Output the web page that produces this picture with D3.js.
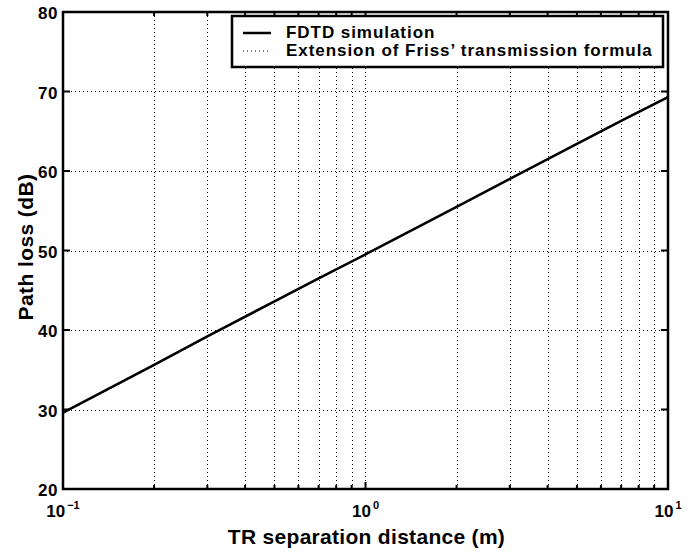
<!DOCTYPE html>
<html>
<head>
<meta charset="utf-8">
<script src="https://cdn.jsdelivr.net/npm/d3@7"></script>
<style>
  body { margin: 0; background: #fff; }
  text { font-family: "Liberation Sans", Arial, sans-serif; font-weight: bold; fill: #000; }
</style>
</head>
<body>
<svg width="699" height="553"></svg>
<script>
var distance = [0.1, 0.2, 0.3, 0.5, 0.7, 1, 2, 3, 5, 7, 10]
var fdtd = [29.6, 35.6, 39.2, 43.6, 46.5, 49.5, 55.5, 59.0, 63.4, 66.3, 69.3]
var friss = [29.5, 35.5, 39.1, 43.5, 46.4, 49.5, 55.5, 59.0, 63.5, 66.4, 69.4]
var yTicks = [20, 30, 40, 50, 60, 70, 80]
var xMajor = [0.1, 1, 10]
var xExp = ['-1', '0', '1']
var legendLabels = ['FDTD simulation', 'Extension of Friss\u2019 transmission formula']

var svg = d3.select('svg')
var pL = 63, pR = 668, pT = 12, pB = 489

var x = d3.scaleLog().domain([0.1, 10]).range([pL, pR])
var y = d3.scaleLinear().domain([20, 80]).range([pB, pT])

var xMinor = []
;[0.1, 1].forEach(function (b) {
  d3.range(2, 10).forEach(function (k) { xMinor.push(b * k) })
})

// grid
var grid = svg.append('g')
  .style('stroke', '#000')
  .style('stroke-width', 1)
  .style('stroke-dasharray', '1,3')
grid.selectAll('.gx')
  .data(xMinor.concat([1]))
  .enter().append('line')
  .attr('x1', function (d) { return Math.round(x(d)) + 0.5 })
  .attr('x2', function (d) { return Math.round(x(d)) + 0.5 })
  .attr('y1', pT).attr('y2', pB)
grid.selectAll('.gy')
  .data(yTicks.slice(1, -1))
  .enter().append('line')
  .attr('y1', function (d) { return Math.round(y(d)) + 0.5 })
  .attr('y2', function (d) { return Math.round(y(d)) + 0.5 })
  .attr('x1', pL).attr('x2', pR)

// ticks (inward, mirrored)
var ticks = svg.append('g').style('stroke', '#000').style('stroke-width', 2)
function xt (list, len) {
  list.forEach(function (d) {
    ticks.append('line').attr('x1', x(d)).attr('x2', x(d)).attr('y1', pB).attr('y2', pB - len)
    ticks.append('line').attr('x1', x(d)).attr('x2', x(d)).attr('y1', pT).attr('y2', pT + len)
  })
}
xt(xMinor, 4)
xt(xMajor, 7)
yTicks.forEach(function (d) {
  ticks.append('line').attr('y1', y(d)).attr('y2', y(d)).attr('x1', pL).attr('x2', pL + 7)
  ticks.append('line').attr('y1', y(d)).attr('y2', y(d)).attr('x1', pR).attr('x2', pR - 7)
})

// data lines
var line = d3.line()
  .x(function (d, i) { return x(distance[i]) })
  .y(function (d) { return y(d) })

svg.append('path').datum(friss).attr('d', line)
  .style('fill', 'none').style('stroke', '#000').style('stroke-width', 1)
  .style('stroke-dasharray', '1,2')
svg.append('path').datum(fdtd).attr('d', line)
  .style('fill', 'none').style('stroke', '#000').style('stroke-width', 2.5)

// axes box
svg.append('rect')
  .attr('x', pL).attr('y', pT)
  .attr('width', pR - pL).attr('height', pB - pT)
  .style('fill', 'none').style('stroke', '#000').style('stroke-width', 2.5)

// y tick labels
svg.selectAll('.yl')
  .data(yTicks)
  .enter().append('text')
  .attr('x', pL - 5)
  .attr('y', function (d) { return y(d) + 7 })
  .attr('text-anchor', 'end')
  .style('font-size', '17px')
  .style('letter-spacing', '0.5px')
  .text(function (d) { return d })

// x tick labels (10 with superscript exponent, centred on tick)
xMajor.forEach(function (d, i) {
  var t = svg.append('text')
    .attr('x', x(d))
    .attr('y', pB + 28)
    .attr('text-anchor', 'middle')
  t.append('tspan').style('font-size', '17px').text('10')
  t.append('tspan').attr('dx', 2).attr('dy', -8).style('font-size', '11px')
    .text(xExp[i].replace('-', '\u2212'))
})

// axis titles
svg.append('text')
  .attr('x', (pL + pR) / 2 + 1)
  .attr('y', 544)
  .attr('text-anchor', 'middle')
  .style('font-size', '21px')
  .style('letter-spacing', '0.3px')
  .text('TR separation distance (m)')
svg.append('text')
  .attr('transform', 'translate(33,247) rotate(-90)')
  .attr('text-anchor', 'middle')
  .style('font-size', '21px')
  .style('letter-spacing', '0.4px')
  .text('Path loss (dB)')

// legend
var lg = svg.append('g')
lg.append('rect')
  .attr('x', 232).attr('y', 16)
  .attr('width', 431).attr('height', 51)
  .style('fill', '#fff').style('stroke', '#000').style('stroke-width', 2.5)
legendLabels.forEach(function (s, i) {
  var yy = 38 + i * 18
  lg.append('line')
    .attr('x1', 243).attr('x2', 271).attr('y1', yy - 5).attr('y2', yy - 5)
    .style('stroke', '#000')
    .style('stroke-width', i === 0 ? 2.5 : 1)
    .style('stroke-dasharray', i === 0 ? null : '1,3')
  lg.append('text')
    .attr('x', 286).attr('y', yy)
    .style('font-size', '17px')
    .style('letter-spacing', '0.95px')
    .text(s)
})
</script>
</body>
</html>
